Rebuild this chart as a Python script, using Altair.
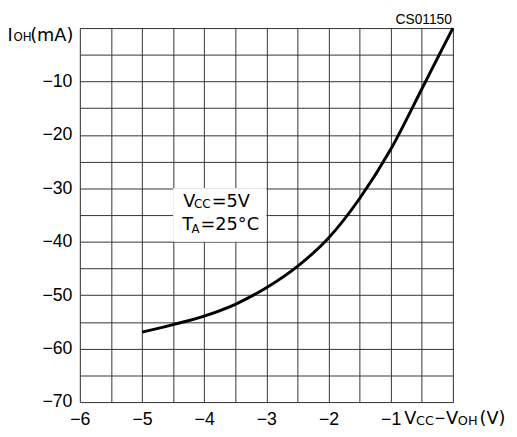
import altair as alt
import pandas as pd

# ---- data ----
vcc_minus_voh = [-5.0, -4.5, -4.0, -3.5, -3.0, -2.5, -2.0, -1.5, -1.0, -0.5, -0.22, 0.0]
i_oh_ma = [-56.9, -55.5, -53.9, -51.7, -48.6, -44.6, -39.3, -31.9, -22.7, -11.4, -5.0, 0.0]

x_grid = [-6.0, -5.5, -5.0, -4.5, -4.0, -3.5, -3.0, -2.5, -2.0, -1.5, -1.0, -0.5, 0.0]
y_grid = [-70, -65, -60, -55, -50, -45, -40, -35, -30, -25, -20, -15, -10, -5, 0]

box_v = [-4.5]
box_v2 = [-3.0]
box_i = [-30]
box_i2 = [-40]

TICK_FONT = "Liberation Sans"
FONT = "DejaVu Sans"
MINUS = "\u2212"

curve = pd.DataFrame({"v": vcc_minus_voh, "i": i_oh_ma})
box = pd.DataFrame({"v": box_v, "v2": box_v2, "i": box_i, "i2": box_i2})

x_scale = alt.Scale(domain=[-6, 0], nice=False, zero=False)
y_scale = alt.Scale(domain=[-70, 0], nice=False, zero=False)

x_axis = alt.Axis(
    values=x_grid, grid=True, ticks=False, domain=False, title=None,
    labelExpr=f"datum.value <= -1 && datum.value % 1 == 0 ? replace(format(datum.value, 'd'), '-', '{MINUS}') : ''",
    labelFont=TICK_FONT, labelFontSize=18, labelColor="black", labelPadding=9,
    gridColor="#333333", gridWidth=1, gridOpacity=1, labelFlush=False, labelOverlap=False,
)
y_axis = alt.Axis(
    values=y_grid, grid=True, ticks=False, domain=False, title=None,
    labelExpr=f"datum.value < 0 && datum.value % 10 == 0 ? replace(format(datum.value, 'd'), '-', '{MINUS}') : ''",
    labelFont=TICK_FONT, labelFontSize=18, labelColor="black", labelPadding=8,
    gridColor="#333333", gridWidth=1, gridOpacity=1, labelFlush=False, labelOverlap=False,
)

box_layer = alt.Chart(box).mark_rect(fill="white").encode(
    x=alt.X("v:Q", scale=x_scale, axis=x_axis),
    x2="v2:Q",
    y=alt.Y("i:Q", scale=y_scale, axis=y_axis),
    y2="i2:Q",
)

line_layer = alt.Chart(curve).mark_line(
    color="black", strokeWidth=3, interpolate="monotone"
).encode(
    x=alt.X("v:Q", scale=x_scale, axis=x_axis),
    y=alt.Y("i:Q", scale=y_scale, axis=y_axis),
)

# text pieces: (text, x px, baseline y px relative to plot origin, font size, font)
pieces = [
    # y-axis title  I_OH(mA)
    ("I", -73.5, 13, 18, FONT), ("OH", -67.5, 13.5, 12, FONT), ("(mA)", -50.5, 13, 18, FONT),
    # figure code
    ("CS01150", 320.7, -4.3, 14, TICK_FONT),
    # x-axis title  Vcc - V_OH (V)
    ("V", 329.5, 402.7, 18, FONT), ("CC", 341.5, 403.3, 13, FONT), (MINUS, 360.5, 402.7, 18, TICK_FONT),
    ("V", 372, 402.7, 18, FONT), ("OH", 384, 403.3, 13, FONT), ("(V)", 406, 402.7, 18, FONT),
    # annotation
    ("V", 105, 181.7, 18, FONT), ("CC", 116, 182.5, 12, FONT), ("=5V", 134, 181.7, 18, FONT),
    ("T", 104, 205, 18, FONT), ("A", 113.5, 208, 12, FONT), ("=25°C", 122.5, 205, 18, FONT),
]

one = pd.DataFrame({"k": [0]})
text_layers = [
    alt.Chart(one).mark_text(
        text=t, font=f, fontSize=fs, color="black", align="left", baseline="alphabetic"
    ).encode(x=alt.value(px), y=alt.value(py))
    for (t, px, py, fs, f) in pieces
]

chart = alt.layer(box_layer, line_layer, *text_layers).properties(
    width=379, height=380,
    autosize=alt.AutoSizeParams(type="none"),
    padding={"left": 73, "top": 17, "right": 57, "bottom": 26},
).configure_view(stroke="black", strokeWidth=2.5).configure(background="white")

chart.save("out.html", embed_options={"renderer": "svg", "actions": False})
